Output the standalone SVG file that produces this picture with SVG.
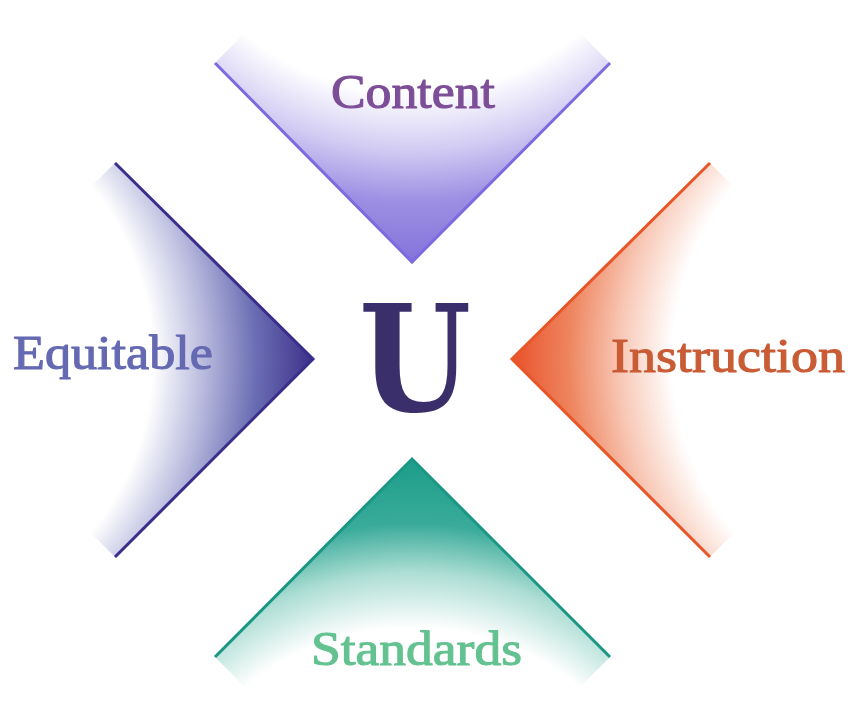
<svg xmlns="http://www.w3.org/2000/svg" width="858" height="721" viewBox="0 0 858 721">
  <defs>
    <radialGradient id="gContent" gradientUnits="userSpaceOnUse" cx="412" cy="-172" r="434">
      <stop offset="0" stop-color="#ffffff"/>
      <stop offset="0.61" stop-color="#ffffff"/>
      <stop offset="0.74" stop-color="#d3ccf3"/>
      <stop offset="0.86" stop-color="#9d8fe3"/>
      <stop offset="1" stop-color="#8473da"/>
    </radialGradient>
    <radialGradient id="gEquitable" gradientUnits="userSpaceOnUse" cx="-120" cy="359" r="433">
      <stop offset="0" stop-color="#ffffff"/>
      <stop offset="0.63" stop-color="#ffffff"/>
      <stop offset="0.75" stop-color="#b7b9dd"/>
      <stop offset="0.87" stop-color="#6a6db3"/>
      <stop offset="1" stop-color="#3d3189"/>
    </radialGradient>
    <radialGradient id="gInstruction" gradientUnits="userSpaceOnUse" cx="945" cy="359" r="433">
      <stop offset="0" stop-color="#ffffff"/>
      <stop offset="0.63" stop-color="#ffffff"/>
      <stop offset="0.75" stop-color="#f8c8b6"/>
      <stop offset="0.87" stop-color="#ee855f"/>
      <stop offset="1" stop-color="#e8512a"/>
    </radialGradient>
    <radialGradient id="gStandards" gradientUnits="userSpaceOnUse" cx="412" cy="892" r="433">
      <stop offset="0" stop-color="#ffffff"/>
      <stop offset="0.61" stop-color="#ffffff"/>
      <stop offset="0.74" stop-color="#abddd3"/>
      <stop offset="0.85" stop-color="#3aab9a"/>
      <stop offset="1" stop-color="#1b9d8a"/>
    </radialGradient>
  </defs>
  <style>
    .edge { fill: none; stroke-width: 3; stroke-linecap: butt; stroke-linejoin: miter; }
    .label { font-family: "Liberation Serif", "DejaVu Serif", serif; font-size: 48px; stroke-width: 1.1; stroke-linejoin: round; }
    .big { font-family: "DejaVu Serif", "Liberation Serif", serif; font-weight: bold; font-size: 147px; fill: #3b2f6b; }
  </style>
  <rect x="0" y="0" width="858" height="721" fill="#ffffff"/>

  <g id="node-content">
    <path d="M412,262 L215,63 L412,-136 L610,63 Z" fill="url(#gContent)"/>
    <path class="edge" d="M215,63 L412,262 L610,63" stroke="#7c6be0"/>
    <text class="label" x="331" y="108" textLength="164" lengthAdjust="spacingAndGlyphs" fill="#7d4e98" stroke="#7d4e98">Content</text>
  </g>

  <g id="node-equitable">
    <path d="M313,359 L115,163 L-83,359 L115,557 Z" fill="url(#gEquitable)"/>
    <path class="edge" d="M115,163 L313,359 L115,557" stroke="#3a2d8c"/>
    <text class="label" x="13" y="369" textLength="200" lengthAdjust="spacingAndGlyphs" fill="#6569b2" stroke="#6569b2">Equitable</text>
  </g>

  <g id="node-instruction">
    <path d="M512,359 L710,163 L908,359 L710,557 Z" fill="url(#gInstruction)"/>
    <path class="edge" d="M710,163 L512,359 L710,557" stroke="#e85527"/>
    <text class="label" x="611" y="372" textLength="234" lengthAdjust="spacingAndGlyphs" fill="#c95b35" stroke="#c95b35">Instruction</text>
  </g>

  <g id="node-standards">
    <path d="M412,459 L610,657 L412,855 L215,657 Z" fill="url(#gStandards)"/>
    <path class="edge" d="M215,657 L412,459 L610,657" stroke="#1a9684"/>
    <text class="label" x="311" y="665" textLength="211" lengthAdjust="spacingAndGlyphs" fill="#63c290" stroke="#63c290">Standards</text>
  </g>

  <g id="node-center">
    <text class="big" x="359" y="411" textLength="112" lengthAdjust="spacingAndGlyphs">U</text>
  </g>

  <g id="connectors"></g>
</svg>
